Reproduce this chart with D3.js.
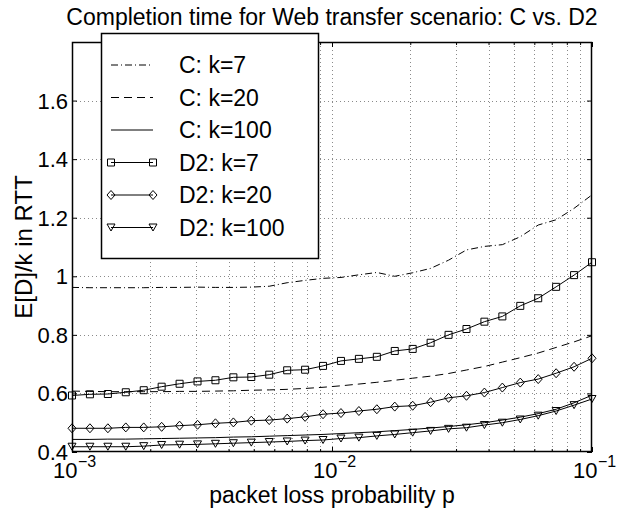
<!DOCTYPE html>
<html><head><meta charset="utf-8">
<script src="https://cdn.jsdelivr.net/npm/d3@7"></script>
<style>
body{margin:0;background:#fff}
text{font-family:"Liberation Sans",Arial,Helvetica,sans-serif;fill:#000}
</style></head><body>
<svg id="chart" width="620" height="513"></svg>
<script>
// packet loss probabilities (30 points, log-spaced between 1e-3 and 1e-1)
const lossProb = [0.001, 0.0011721, 0.0013738, 0.0016103, 0.0018874, 0.0022122, 0.0025929, 0.0030392,
  0.0035622, 0.0041753, 0.0048939, 0.0057362, 0.0067234, 0.0078805, 0.0092367, 0.010826, 0.012690,
  0.014874, 0.017433, 0.020434, 0.023950, 0.028072, 0.032903, 0.038566, 0.045204, 0.052983, 0.062102,
  0.072790, 0.085317, 0.1];

// E[D]/k in RTT for each scheme and file size k
const cK7 = [0.962, 0.961, 0.961, 0.961, 0.961, 0.962, 0.962, 0.963, 0.962, 0.962, 0.963, 0.966, 0.978,
  0.986, 0.993, 0.996, 1.005, 1.013, 1.000, 1.012, 1.027, 1.055, 1.090, 1.102, 1.108, 1.135, 1.175,
  1.193, 1.232, 1.278];
const cK20 = [0.608, 0.607, 0.606, 0.606, 0.606, 0.606, 0.607, 0.607, 0.608, 0.609, 0.611, 0.612, 0.614,
  0.617, 0.621, 0.626, 0.632, 0.638, 0.645, 0.652, 0.659, 0.668, 0.680, 0.692, 0.707, 0.722, 0.738,
  0.757, 0.776, 0.797];
const cK100 = [0.443, 0.443, 0.444, 0.444, 0.445, 0.446, 0.447, 0.448, 0.449, 0.451, 0.452, 0.454, 0.456,
  0.458, 0.460, 0.463, 0.466, 0.469, 0.473, 0.477, 0.482, 0.487, 0.493, 0.500, 0.509, 0.519, 0.531,
  0.546, 0.568, 0.594];
const d2K7 = [0.593, 0.597, 0.598, 0.604, 0.611, 0.623, 0.633, 0.641, 0.645, 0.655, 0.656, 0.664, 0.679,
  0.681, 0.694, 0.711, 0.718, 0.725, 0.745, 0.752, 0.773, 0.800, 0.820, 0.845, 0.863, 0.899, 0.925,
  0.964, 1.004, 1.048];
const d2K20 = [0.481, 0.481, 0.481, 0.484, 0.484, 0.486, 0.490, 0.493, 0.498, 0.501, 0.507, 0.509, 0.514,
  0.520, 0.529, 0.533, 0.540, 0.546, 0.555, 0.558, 0.570, 0.585, 0.592, 0.603, 0.620, 0.637, 0.649,
  0.669, 0.691, 0.720];
const d2K100 = [0.418, 0.418, 0.418, 0.418, 0.420, 0.424, 0.425, 0.426, 0.428, 0.430, 0.432, 0.434, 0.436,
  0.439, 0.441, 0.446, 0.449, 0.455, 0.460, 0.466, 0.472, 0.479, 0.483, 0.492, 0.500, 0.511, 0.524,
  0.540, 0.560, 0.581];

const seriesLabels = ["C: k=7", "C: k=20", "C: k=100", "D2: k=7", "D2: k=20", "D2: k=100"];
const xTickValues = [0.001, 0.01, 0.1];
const xTickExponents = ["\u22123", "\u22122", "\u22121"];
const yTickValues = [0.4, 0.6, 0.8, 1.0, 1.2, 1.4, 1.6];
const yTickLabels = ["0.4", "0.6", "0.8", "1", "1.2", "1.4", "1.6"];
const titleText = "Completion time for Web transfer scenario: C vs. D2";
const xLabelText = "packet loss probability p";
const yLabelText = "E[D]/k in RTT";

const W = 620, H = 513;
const margin = {left: 72, right: 28, top: 42, bottom: 61};
const pw = W - margin.left - margin.right, ph = H - margin.top - margin.bottom;

const svg = d3.select("#chart");
const g = svg.append("g").attr("transform", `translate(${margin.left},${margin.top})`);

const x = d3.scaleLog().domain([0.001, 0.1]).range([0, pw]);
const y = d3.scaleLinear().domain([0.4, 1.8]).range([ph, 0]);

// minor decade ticks for the log axis
const minorX = x.ticks().filter(v => !xTickValues.some(t => Math.abs(t - v) / t < 1e-9));

// dotted grid
const grid = g.append("g").attr("stroke", "#8a8a8a").attr("stroke-width", 1)
  .attr("stroke-dasharray", "1,3");
grid.selectAll("line.gx").data(x.ticks().filter(v => v > 0.001 && v < 0.1)).join("line")
  .attr("x1", d => Math.round(x(d)) + 0.5).attr("x2", d => Math.round(x(d)) + 0.5)
  .attr("y1", 0).attr("y2", ph);
grid.selectAll("line.gy").data(yTickValues.filter(v => v > 0.4)).join("line")
  .attr("x1", 0).attr("x2", pw)
  .attr("y1", d => Math.round(y(d)) + 0.5).attr("y2", d => Math.round(y(d)) + 0.5);

// series definitions: data + style
const series = [
  {vals: cK7, dash: "7,3,1,3", marker: null},
  {vals: cK20, dash: "8,5", marker: null},
  {vals: cK100, dash: null, marker: null},
  {vals: d2K7, dash: null, marker: "square"},
  {vals: d2K20, dash: null, marker: "diamond"},
  {vals: d2K100, dash: null, marker: "triangle"}
];

const line = d3.line().x((d, i) => x(lossProb[i])).y(d => y(d));

function markerPath(type) {
  if (type === "square") return "M-3.5,-3.5H3.5V3.5H-3.5Z";
  if (type === "diamond") return "M0,-4.5L4,0L0,4.5L-4,0Z";
  if (type === "triangle") return "M-4,-3.5H4L0,3.5Z";
  return "";
}

series.forEach(s => {
  g.append("path").datum(s.vals).attr("d", line)
    .attr("fill", "none").attr("stroke", "#000").attr("stroke-width", 1)
    .attr("stroke-dasharray", s.dash);
  if (s.marker) {
    g.append("g").selectAll("path").data(s.vals).join("path")
      .attr("transform", (d, i) => `translate(${x(lossProb[i])},${y(d)})`)
      .attr("d", markerPath(s.marker))
      .attr("fill", "none").attr("stroke", "#000").attr("stroke-width", 1);
  }
});

// axes: ticks pointing inward on all four sides
const tickLen = 5;
g.append("g").attr("transform", `translate(0,${ph})`)
  .call(d3.axisBottom(x).tickValues(xTickValues).tickSize(-tickLen).tickFormat(""))
  .call(a => a.select(".domain").remove());
g.append("g").attr("transform", `translate(0,${ph})`)
  .call(d3.axisBottom(x).tickValues(minorX).tickSize(-3).tickFormat(""))
  .call(a => a.select(".domain").remove());
g.append("g")
  .call(d3.axisTop(x).tickValues(xTickValues).tickSize(-tickLen).tickFormat(""))
  .call(a => a.select(".domain").remove());
g.append("g")
  .call(d3.axisTop(x).tickValues(minorX).tickSize(-3).tickFormat(""))
  .call(a => a.select(".domain").remove());
g.append("g")
  .call(d3.axisLeft(y).tickValues(yTickValues).tickSize(-tickLen).tickFormat(""))
  .call(a => a.select(".domain").remove());
g.append("g").attr("transform", `translate(${pw},0)`)
  .call(d3.axisRight(y).tickValues(yTickValues).tickSize(-tickLen).tickFormat(""))
  .call(a => a.select(".domain").remove());
g.selectAll(".tick line").attr("stroke", "#000");

// plot frame
g.append("rect").attr("x", 0.5).attr("y", 0.5).attr("width", pw - 1).attr("height", ph - 1)
  .attr("fill", "none").attr("stroke", "#000").attr("stroke-width", 1.5);

// y tick labels
g.append("g").selectAll("text").data(yTickValues).join("text")
  .attr("x", -4).attr("y", d => y(d) + 8)
  .attr("text-anchor", "end").attr("font-size", 22)
  .text((d, i) => yTickLabels[i]);

// x tick labels: 10 with superscript exponent
const xl = g.append("g").selectAll("g").data(xTickValues).join("g")
  .attr("transform", d => `translate(${x(d)},${ph + 26})`);
xl.append("text").attr("x", -19).attr("y", 0).attr("font-size", 22).text("10");
xl.append("text").attr("x", 6).attr("y", -11).attr("font-size", 16)
  .text((d, i) => xTickExponents[i]);

// title and axis labels
svg.append("text").attr("x", margin.left + pw / 2).attr("y", 25)
  .attr("text-anchor", "middle").attr("font-size", 23).text(titleText);
svg.append("text").attr("x", margin.left + pw / 2).attr("y", 503)
  .attr("text-anchor", "middle").attr("font-size", 23).text(xLabelText);
svg.append("text").attr("transform", `translate(32,${margin.top + ph / 2}) rotate(-90)`)
  .attr("text-anchor", "middle").attr("font-size", 24).text(yLabelText);

// legend
const lg = svg.append("g").attr("transform", "translate(101,33)");
lg.append("rect").attr("x", 0.5).attr("y", 0.5).attr("width", 217).attr("height", 225)
  .attr("fill", "#fff").attr("stroke", "#000").attr("stroke-width", 1.5);
series.forEach((s, i) => {
  const ry = 32 + i * 32.5;
  lg.append("line").attr("x1", 10).attr("x2", 52).attr("y1", ry).attr("y2", ry)
    .attr("stroke", "#000").attr("stroke-width", 1).attr("stroke-dasharray", s.dash);
  if (s.marker) {
    [10, 52].forEach(mx => lg.append("path").attr("transform", `translate(${mx},${ry})`)
      .attr("d", markerPath(s.marker)).attr("fill", "none").attr("stroke", "#000"));
  }
  lg.append("text").attr("x", 78).attr("y", ry + 8).attr("font-size", 23).text(seriesLabels[i]);
});
</script>
</body></html>
